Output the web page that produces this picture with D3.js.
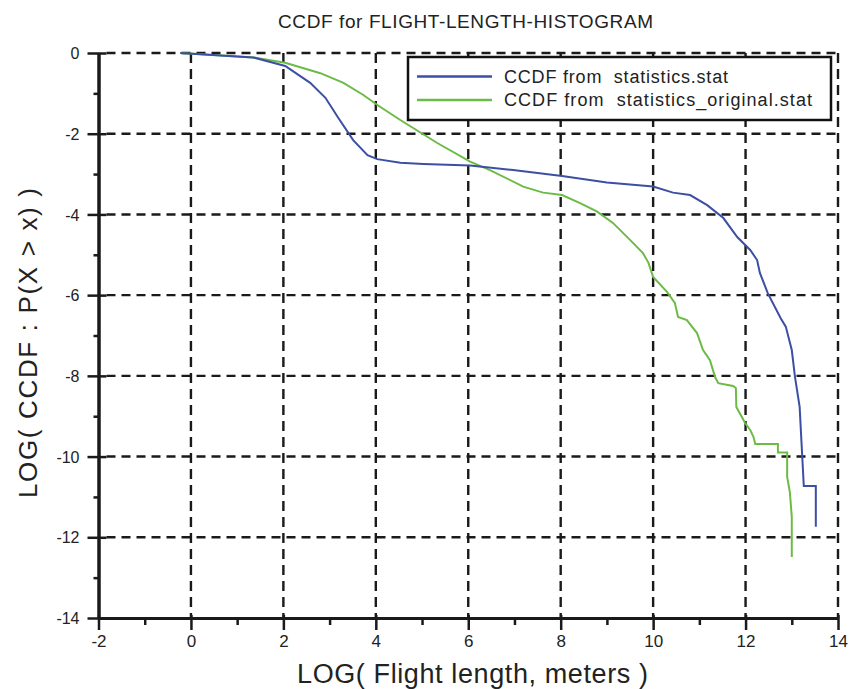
<!DOCTYPE html>
<html>
<head>
<meta charset="utf-8">
<script src="https://cdn.jsdelivr.net/npm/d3@7"></script>
<style>
  html, body { margin: 0; padding: 0; background: #fff; }
  svg { display: block; }
  text { font-family: "Liberation Sans", Arial, Helvetica, sans-serif; fill: #222; }
</style>
</head>
<body>
<svg id="chart" width="849" height="689"></svg>
<script>
// ---- data ----
const xMajorTicks = [-2, 0, 2, 4, 6, 8, 10, 12, 14];
const xMinorTicks = [-1, 1, 3, 5, 7, 9, 11, 13];
const yMajorTicks = [0, -2, -4, -6, -8, -10, -12, -14];
const yMinorTicks = [-1, -3, -5, -7, -9, -11, -13];
const xGrid = [0, 2, 4, 6, 8, 10, 12, 14];
const yGrid = [0, -2, -4, -6, -8, -10, -12];

const seriesNames = ["CCDF from  statistics.stat", "CCDF from  statistics_original.stat"];
const seriesColors = ["#3b4fa3", "#6dbb47"];

const blueX = [-0.23, 1.35, 2.04, 2.58, 2.91, 3.19, 3.51, 3.82, 4.03, 4.53, 5.03, 6.04, 6.97, 8.03, 9.0, 10.0, 10.43, 10.8, 11.17, 11.52, 11.82, 12.1, 12.25, 12.31, 12.48, 12.76, 12.87, 13.0, 13.07, 13.17, 13.23, 13.26, 13.52, 13.52];
const blueY = [0, -0.11, -0.32, -0.74, -1.11, -1.61, -2.16, -2.53, -2.63, -2.72, -2.75, -2.79, -2.90, -3.05, -3.21, -3.31, -3.46, -3.52, -3.77, -4.09, -4.56, -4.88, -5.13, -5.45, -5.95, -6.57, -6.78, -7.36, -8.03, -8.77, -10.08, -10.73, -10.73, -11.74];

const greenX = [-0.23, 1.35, 2.04, 2.8, 3.3, 3.73, 4.05, 4.53, 5.33, 6.04, 6.47, 7.19, 7.62, 8.03, 8.42, 8.79, 9.13, 9.5, 9.78, 9.9, 10.0, 10.3, 10.47, 10.54, 10.73, 10.95, 11.08, 11.23, 11.34, 11.41, 11.73, 11.79, 11.8, 11.92, 11.99, 12.1, 12.17, 12.21, 12.7, 12.7, 12.9, 12.9, 12.96, 13.0, 13.0];
const greenY = [0, -0.11, -0.24, -0.5, -0.74, -1.04, -1.3, -1.66, -2.23, -2.69, -2.9, -3.31, -3.46, -3.52, -3.72, -3.93, -4.21, -4.63, -4.96, -5.2, -5.55, -5.92, -6.19, -6.54, -6.62, -6.94, -7.36, -7.61, -8.03, -8.18, -8.25, -8.3, -8.77, -9.02, -9.17, -9.34, -9.51, -9.69, -9.69, -9.9, -9.9, -10.5, -10.9, -11.5, -12.49];

// ---- layout ----
const svg = d3.select("#chart");
const x = d3.scaleLinear().domain([-2, 14]).range([98.5, 838]);
const y = d3.scaleLinear().domain([-14, 0]).range([618, 53]);
const fmt = d => String(d); // ASCII hyphen-minus as in the reference

// grid
const gridColor = "#1a1a1a";
svg.append("g").selectAll("line").data(xGrid).join("line")
  .attr("x1", d => x(d)).attr("x2", d => x(d))
  .attr("y1", y(0)).attr("y2", y(-14))
  .attr("stroke", gridColor).attr("stroke-width", 2.4)
  .attr("stroke-dasharray", "10,6");
svg.append("g").selectAll("line").data(yGrid).join("line")
  .attr("x1", x(-2) + 8).attr("x2", x(14))
  .attr("y1", d => y(d)).attr("y2", d => y(d))
  .attr("stroke", gridColor).attr("stroke-width", 2.4)
  .attr("stroke-dasharray", "9,6");

// axes
const xAxisMajor = svg.append("g").attr("transform", `translate(0,${y(-14)})`)
  .call(d3.axisBottom(x).tickValues(xMajorTicks).tickSize(12).tickFormat(fmt).tickSizeOuter(0));
const xAxisMinor = svg.append("g").attr("transform", `translate(0,${y(-14)})`)
  .call(d3.axisBottom(x).tickValues(xMinorTicks).tickSize(7).tickFormat("").tickSizeOuter(0));
const yAxisMajor = svg.append("g").attr("transform", `translate(${x(-2)},0)`)
  .call(d3.axisLeft(y).tickValues(yMajorTicks).tickSize(11).tickFormat(fmt).tickSizeOuter(0));
const yAxisMinor = svg.append("g").attr("transform", `translate(${x(-2)},0)`)
  .call(d3.axisLeft(y).tickValues(yMinorTicks).tickSize(5).tickFormat("").tickSizeOuter(0));

[xAxisMajor, xAxisMinor, yAxisMajor, yAxisMinor].forEach(g => {
  g.select(".domain").attr("stroke", "#1a1a1a").attr("stroke-width", 3);
  g.selectAll(".tick line").attr("stroke", "#1a1a1a").attr("stroke-width", 2.5);
});
xAxisMajor.selectAll(".tick line").attr("y1", -3);
yAxisMajor.selectAll(".tick line").attr("x1", 8);
xAxisMajor.selectAll(".tick text")
  .attr("y", 17).attr("dy", "0.71em")
  .style("font-size", "17px").style("font-family", "Liberation Sans, Arial, sans-serif").attr("fill", "#333");
yAxisMajor.selectAll(".tick text")
  .attr("x", -19).attr("dy", "0.35em")
  .style("font-size", "16px").style("font-family", "Liberation Sans, Arial, sans-serif").attr("fill", "#333");

// series
const line = d3.line().x(d => x(d[0])).y(d => y(d[1]));
const blueData = blueX.map((v, i) => [v, blueY[i]]);
const greenData = greenX.map((v, i) => [v, greenY[i]]);
svg.append("path").datum(greenData).attr("d", line)
  .attr("fill", "none").attr("stroke", seriesColors[1]).attr("stroke-width", 2);
svg.append("path").datum(blueData).attr("d", line)
  .attr("fill", "none").attr("stroke", seriesColors[0]).attr("stroke-width", 2);

// legend
const lg = svg.append("g");
lg.append("rect").attr("x", 408).attr("y", 57).attr("width", 423).attr("height", 63)
  .attr("fill", "#fff").attr("stroke", "#111").attr("stroke-width", 2.5);
const legendRows = [0, 1];
const legendTextLen = [224, 308];
legendRows.forEach(i => {
  const yy = 76.5 + i * 23.5;
  lg.append("line").attr("x1", 417).attr("x2", 492).attr("y1", yy).attr("y2", yy)
    .attr("stroke", seriesColors[i]).attr("stroke-width", 2.5);
  lg.append("text").attr("x", 504).attr("y", yy).attr("dy", "0.36em")
    .attr("textLength", legendTextLen[i]).attr("lengthAdjust", "spacing")
    .style("font-size", "18px").style("white-space", "pre").attr("xml:space", "preserve")
    .text(seriesNames[i]);
});

// title and axis labels
svg.append("text").attr("x", 278).attr("y", 28)
  .attr("textLength", 375).attr("lengthAdjust", "spacing")
  .style("font-size", "19px").attr("fill", "#222")
  .text("CCDF for FLIGHT-LENGTH-HISTOGRAM");
svg.append("text").attr("x", 297).attr("y", 683)
  .attr("textLength", 351).attr("lengthAdjust", "spacing")
  .style("font-size", "27px").attr("fill", "#222")
  .text("LOG( Flight length, meters )");
svg.append("text").attr("transform", "translate(37,498) rotate(-90)")
  .attr("x", 0).attr("y", 0)
  .attr("textLength", 310).attr("lengthAdjust", "spacing")
  .style("font-size", "26px").attr("fill", "#222")
  .text("LOG( CCDF : P(X > x) )");
</script>
</body>
</html>
